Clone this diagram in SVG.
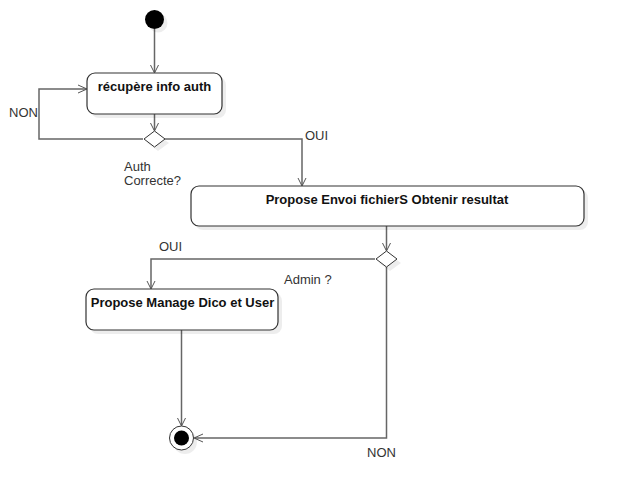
<svg xmlns="http://www.w3.org/2000/svg" width="622" height="499" viewBox="0 0 622 499">
<style>
.sh{fill:#000;fill-opacity:0.07;stroke:none}
.box{fill:#fff;stroke:#333;stroke-width:1.2}
.dia{fill:#fff;stroke:#333;stroke-width:1}
.c{fill:none;stroke:#666;stroke-width:1.5}
.arr{fill:none;stroke:#555;stroke-width:1}
.b{font-family:"Liberation Sans",Arial,sans-serif;font-size:13px;font-weight:bold;fill:#111;text-anchor:middle}
.l{font-family:"Liberation Sans",Arial,sans-serif;font-size:13px;fill:#333}
</style>
<rect width="622" height="499" fill="#fff"/>
<g id="connectors">
<path class="c" d="M154.5,29 V72"/><path class="arr" d="M150.5,65 L154.5,73 L158.5,65"/>
<path class="c" d="M154.5,114 V130"/><path class="arr" d="M150.5,123 L154.5,131 L158.5,123"/>
<path class="c" d="M143,139 H39 V89 H86"/><path class="arr" d="M78,85 L87,89 L78,93"/>
<path class="c" d="M165,139 H302 V185"/><path class="arr" d="M298,178 L302,186 L306,178"/>
<path class="c" d="M386.5,226 V250"/><path class="arr" d="M382.5,243 L386.5,251 L390.5,243"/>
<path class="c" d="M375,259 H151 V288"/><path class="arr" d="M147,281 L151,289 L155,281"/>
<path class="c" d="M181.5,330 V425"/><path class="arr" d="M177.5,418 L181.5,426 L185.5,418"/>
<path class="c" d="M386.5,267 V438 H195"/><path class="arr" d="M203,434 L194,438 L203,442"/>
</g>
<g id="start"><circle class="sh" cx="158" cy="23" r="9.5"/><circle cx="154.5" cy="19.5" r="9.5" fill="#000"/></g>
<g id="recupere">
<rect class="sh" x="91" y="77" width="135" height="41" rx="8"/>
<rect class="box" x="87" y="73" width="135" height="41" rx="8"/>
<text class="b" x="154.5" y="91">récupère info auth</text>
</g>
<g id="auth-decision">
<path class="sh" d="M158,135 L169,143 L158,151 L147,143Z"/>
<path class="dia" d="M154.5,131 L165,139 L154.5,147 L144,139Z"/>
<text class="l" x="124" y="171">Auth</text>
<text class="l" x="124" y="185">Correcte?</text>
</g>
<g id="propose-envoi">
<rect class="sh" x="195" y="190" width="393" height="40" rx="8"/>
<rect class="box" x="191" y="186" width="393" height="40" rx="8"/>
<text class="b" x="387" y="204">Propose Envoi fichierS Obtenir resultat</text>
</g>
<g id="admin-decision">
<path class="sh" d="M390,255 L401,263 L390,271 L379,263Z"/>
<path class="dia" d="M386.5,251 L397,259 L386.5,267 L376,259Z"/>
<text class="l" x="284" y="284">Admin ?</text>
</g>
<g id="propose-manage">
<rect class="sh" x="90" y="293" width="192" height="41" rx="8"/>
<rect class="box" x="86" y="289" width="192" height="41" rx="8"/>
<text class="b" x="182.5" y="307">Propose Manage Dico et User</text>
</g>
<g id="end">
<circle class="sh" cx="185" cy="442" r="12"/>
<circle cx="181.5" cy="438" r="12" fill="#fff" stroke="#333" stroke-width="1"/>
<circle cx="181.5" cy="438" r="7.5" fill="#000"/>
</g>
<g id="labels">
<text class="l" x="9" y="117">NON</text>
<text class="l" x="305" y="140">OUI</text>
<text class="l" x="159" y="251">OUI</text>
<text class="l" x="367" y="457">NON</text>
</g>
</svg>
